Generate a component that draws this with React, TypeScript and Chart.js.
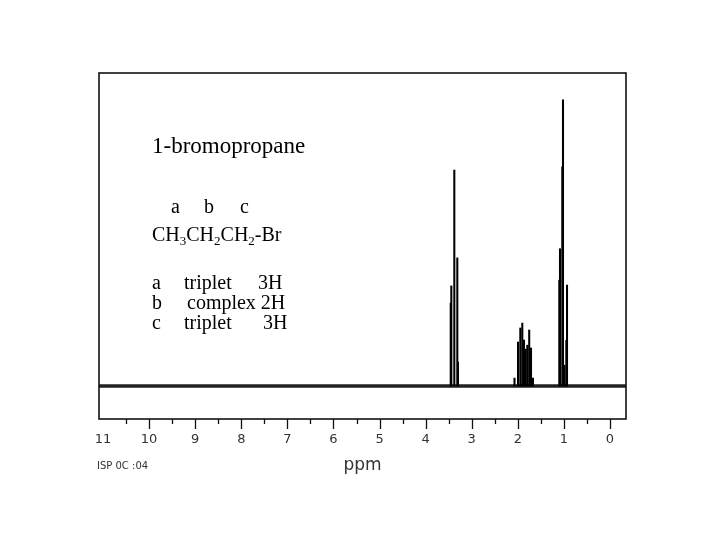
import React, { useEffect, useRef } from "react";
import { Chart, registerables } from "chart.js";

Chart.register(...registerables);

// x axis (ppm, reversed)
const tickValues = [0, 1, 2, 3, 4, 5, 6, 7, 8, 9, 10, 11];
const majorTickMarks = [0, 1, 2, 3, 4, 5, 6, 7, 8, 9, 10];
const minorTickMarks = [0.5, 1.5, 2.5, 3.5, 4.5, 5.5, 6.5, 7.5, 8.5, 9.5, 10.5];
const xMin = -0.347;
const xMax = 11.087;
const yMin = -11.5;
const yMax = 109.4;

// spectrum lines (ppm, relative intensity)
const peakPpm = [
  3.456, 3.443, 3.378, 3.313, 3.298,
  2.072, 1.996, 1.946, 1.903, 1.866, 1.829, 1.794, 1.753, 1.714, 1.671,
  1.1, 1.085, 1.035, 1.02, 0.988, 0.948, 0.933,
];
const peakIntensity = [
  29, 35, 75.5, 44.8, 8.4,
  2.8, 15.4, 20.3, 22, 16.1, 12.9, 14.3, 19.6, 13.3, 2.8,
  37, 48, 76.6, 100, 7.3, 16, 35.3,
];

// flat baseline
const baselinePpm = [11.087, -0.347];
const baselineIntensity = [0, 0];

const SERIF = '"Liberation Serif", "Times New Roman", serif';
const SANS = '"DejaVu Sans", "Liberation Sans", sans-serif';

const overlayPlugin = {
  id: "overlay",
  afterDraw(chart: any) {
    const ctx = chart.ctx;
    const { left, right, top, bottom } = chart.chartArea;
    const xs = chart.scales.x;
    ctx.save();
    // frame
    ctx.strokeStyle = "#111";
    ctx.lineWidth = 1.6;
    ctx.strokeRect(left, top, right - left, bottom - top);
    // tick marks
    ctx.lineWidth = 1.3;
    ctx.beginPath();
    majorTickMarks.forEach((v) => {
      const px = Math.round(xs.getPixelForValue(v)) + 0.5;
      ctx.moveTo(px, bottom);
      ctx.lineTo(px, bottom + 10);
    });
    minorTickMarks.forEach((v) => {
      const px = Math.round(xs.getPixelForValue(v)) + 0.5;
      ctx.moveTo(px, bottom);
      ctx.lineTo(px, bottom + 5);
    });
    ctx.stroke();

    // annotations
    ctx.fillStyle = "#000";
    ctx.textBaseline = "alphabetic";
    ctx.textAlign = "left";
    ctx.font = `23px ${SERIF}`;
    ctx.fillText("1-bromopropane", 152, 153);

    ctx.font = `20px ${SERIF}`;
    ctx.fillText("a", 171, 213);
    ctx.fillText("b", 204, 213);
    ctx.fillText("c", 240, 213);

    const parts: [string, boolean][] = [
      ["CH", false], ["3", true], ["CH", false], ["2", true], ["CH", false], ["2", true], ["-Br", false],
    ];
    let x = 152;
    const yb = 241;
    parts.forEach(([t, sub]) => {
      ctx.font = sub ? `13px ${SERIF}` : `20px ${SERIF}`;
      ctx.fillText(t, x, sub ? yb + 4 : yb);
      x += ctx.measureText(t).width;
    });

    ctx.font = `20px ${SERIF}`;
    ctx.fillText("a", 152, 289);
    ctx.fillText("triplet", 184, 289);
    ctx.fillText("3H", 258, 289);
    ctx.fillText("b", 152, 309);
    ctx.fillText("complex 2H", 187, 309);
    ctx.fillText("c", 152, 329);
    ctx.fillText("triplet", 184, 329);
    ctx.fillText("3H", 263, 329);

    ctx.font = `10px ${SANS}`;
    ctx.fillStyle = "#333";
    ctx.fillText("ISP 0C :04", 97, 469);
    ctx.restore();
  },
};

export default function App() {
  const ref = useRef<HTMLCanvasElement | null>(null);
  useEffect(() => {
    if (!ref.current) return;
    const chart = new Chart(ref.current, {
      data: {
        datasets: [
          {
            type: "line",
            data: baselinePpm.map((p, i) => ({ x: p, y: baselineIntensity[i] })),
            borderColor: "#222",
            borderWidth: 3.5,
            pointRadius: 0,
            order: 2,
          },
          {
            type: "bar",
            data: peakPpm.map((p, i) => ({ x: p, y: peakIntensity[i] })),
            backgroundColor: "#000",
            borderWidth: 0,
            barThickness: 1.4,
            order: 1,
          },
        ],
      } as any,
      options: {
        responsive: false,
        animation: false,
        events: [],
        layout: { padding: { left: 99, right: 94, top: 73, bottom: 0 } },
        plugins: { legend: { display: false }, tooltip: { enabled: false } },
        scales: {
          x: {
            type: "linear",
            reverse: true,
            min: xMin,
            max: xMax,
            offset: false,
            grid: { display: false, drawTicks: false },
            border: { display: false },
            afterBuildTicks: (axis: any) => {
              axis.ticks = tickValues.map((v) => ({ value: v }));
            },
            afterFit: (axis: any) => {
              axis.height = 121;
            },
            ticks: {
              autoSkip: false,
              maxRotation: 0,
              padding: 13,
              color: "#333",
              font: { family: SANS, size: 13 },
              callback: (v: any) => String(v),
            },
            title: {
              display: true,
              text: "ppm",
              color: "#333",
              font: { family: SANS, size: 17 },
              padding: { top: 0, bottom: 64 },
            },
          },
          y: {
            type: "linear",
            display: false,
            min: yMin,
            max: yMax,
          },
        },
      } as any,
      plugins: [overlayPlugin],
    });
    return () => chart.destroy();
  }, []);
  return (
    <div style={{ position: "fixed", left: 0, top: 0, width: 720, height: 540, background: "#fff" }}>
      <canvas ref={ref} width={720} height={540} />
    </div>
  );
}
